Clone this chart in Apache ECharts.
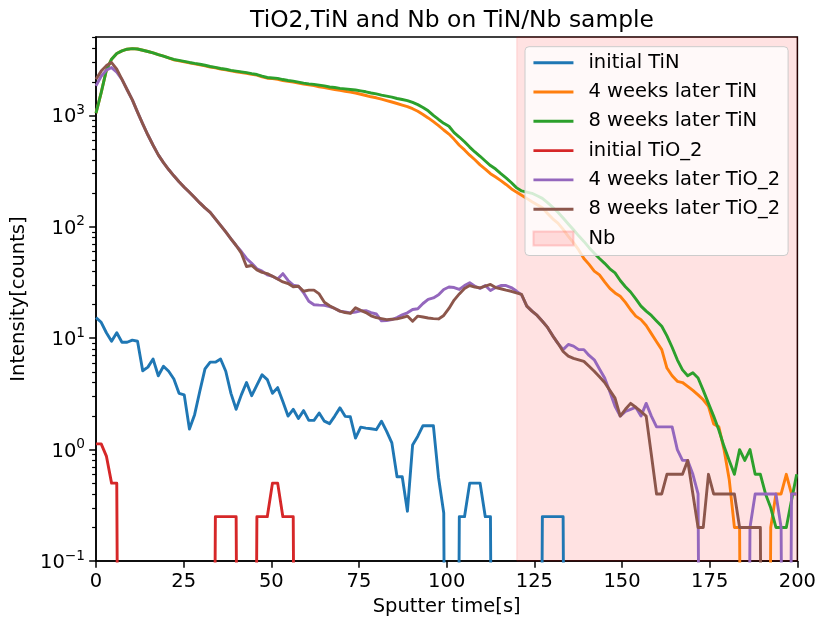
<!DOCTYPE html>
<html>
<head>
<meta charset="utf-8">
<script src="https://cdn.jsdelivr.net/npm/echarts@6/dist/echarts.min.js"></script>
<style>html,body{margin:0;padding:0;background:#fff}#c{width:819px;height:625px}</style>
</head>
<body>
<div id="c"></div>
<script>
// ---- data ----
const STEP_S = 1.48; // sampling step of the sputter time [s]
const xTicks = [0, 25, 50, 75, 100, 125, 150, 175, 200];
const yMajorTicks = [0.1, 1, 10, 100, 1000];
const yMinorTicks = [0.2,0.3,0.4,0.5,0.6,0.7,0.8,0.9,2,3,4,5,6,7,8,9,20,30,40,50,60,70,80,90,200,300,400,500,600,700,800,900,2000,3000,4000,5000];
const seriesNames = ['initial TiN', '4 weeks later TiN', '8 weeks later TiN', 'initial TiO_2', '4 weeks later TiO_2', '8 weeks later TiO_2'];
const nbRange = [120, 200];

const initialTiN = [15.3,13.9,11.2,9.4,11.2,9.2,9.2,9.6,9.4,5.1,
5.5,6.5,4.6,5.6,5.05,4.3,3.2,3.1,1.53,2.06,
3.34,5.3,6.1,6.1,6.5,5.05,3.2,2.3,3.1,4.0,
3.05,3.8,4.7,4.25,3.2,3.6,2.7,2.0,2.3,1.9,
2.24,1.83,1.83,2.13,1.8,1.71,2.0,2.37,1.99,1.97,
1.27,1.59,1.56,1.54,1.51,1.8,1.46,1.15,0.57,0.57,
0.28,1.1,1.32,1.64,1.64,1.64,0.56,0.27,0,0,
0.25,0.25,0.5,0.5,0.5,0.25,0.25,0,0,0,
0,0,0,0,0,0,0.25,0.25,0.25,0.25,
0.25,0,0,0,0,0,0,0,0,0,
0,0,0,0,0,0,0,0,0,0,
0,0,0,0,0,0,0,0,0,0,
0,0,0,0,0,0,0,0,0,0,
0,0,0,0,0,0];

const weeks4TiN = [1050,1600,2550,3200,3600,3800,3930,3980,3950,3850,
3750,3640,3510,3400,3280,3150,3090,3030,2960,2900,
2850,2790,2720,2670,2610,2570,2510,2470,2430,2390,
2340,2300,2220,2160,2140,2110,2060,2020,1990,1950,
1910,1880,1850,1810,1780,1740,1710,1680,1650,1620,
1590,1550,1510,1470,1440,1400,1360,1320,1280,1240,
1200,1150,1090,1020,950,880,810,740,680,610,
540,490,440,400,360,330,300,280,260,240,
220,205,192,180,168,158,148,132,118,108,
95,82,72,62,52,46,40,37,32,28,
25.5,23.8,21,18,15.8,14.7,13,11,9.3,7.9,
5.4,4.6,4.1,4.0,3.7,3.4,3.1,2.8,2.45,1.7,
1.6,1.0,0.54,0.2,0.2,0,0,0,0,0,
0.2,0.4,0.4,0.6,0.4,0.4];

const weeks8TiN = [1050,1600,2550,3200,3600,3800,3930,3980,3950,3850,
3750,3640,3510,3400,3280,3180,3120,3060,2990,2930,
2880,2820,2750,2700,2640,2600,2540,2500,2460,2420,
2370,2330,2250,2190,2170,2150,2100,2060,2030,1990,
1950,1920,1900,1870,1840,1800,1780,1750,1730,1710,
1690,1660,1630,1590,1560,1520,1490,1460,1420,1390,
1360,1310,1250,1180,1100,1000,920,850,800,700,
640,580,520,470,430,390,355,330,300,275,
250,225,210,205,200,190,180,165,150,135,
120,106,94,83,74,65,58,52,47,42,
38.6,33,29,26,22.5,19.4,17.5,16,14.3,12.8,
10.5,8.3,6.4,5.2,4.6,4.9,4.4,3.4,2.6,2.0,
1.5,1.07,0.8,0.6,1.0,0.8,1.0,0.6,0.6,0.4,
0.3,0.2,0.2,0.2,0.35,0.6];

const initialTiO2 = [1.125,1.125,0.875,0.5,0.5,0,0,0,0,0,
0,0,0,0,0,0,0,0,0,0,
0,0,0,0.25,0.25,0.25,0.25,0.25,0,0,
0,0.25,0.25,0.25,0.5,0.5,0.25,0.25,0.25,0,
0,0,0,0,0,0,0,0,0,0,
0,0,0,0,0,0,0,0,0,0,
0,0,0,0,0,0,0,0,0,0,
0,0,0,0,0,0,0,0,0,0,
0,0,0,0,0,0,0,0,0,0,
0,0,0,0,0,0,0,0,0,0,
0,0,0,0,0,0,0,0,0,0,
0,0,0,0,0,0,0,0,0,0,
0,0,0,0,0,0,0,0,0,0,
0,0,0,0,0,0];

const weeks4TiO2 = [1840,2250,2550,2690,2450,2110,1700,1380,1070,840,
667,540,443,377,327,287,254,227,204,183,
164,148,135,118,103,90,78,68,60,52,
47,42,40,37,36,34,38,33,30,29.3,
25.6,21.5,20.0,19.8,19.7,19.2,18.5,17.5,17.2,16.9,
17.2,17.6,17.7,17.0,16.5,14.3,14.4,14.7,15.3,16.2,
16.9,18.1,18.4,20.5,22.3,23.0,24.5,27.4,28.8,28.5,
27.4,29.7,31.5,29.3,28,29.7,26.8,28.5,29.7,29.7,
28.5,26.5,24.5,19.4,17.5,16,14.2,12.5,10.5,9.0,
7.9,8.8,8.5,7.9,7.9,7.0,6.4,5.3,4.4,3.3,
2.45,2.0,2.2,2.3,2.4,2.0,2.6,2.0,1.6,1.6,
1.6,1.6,1.0,0.8,0.8,0.6,0.4,0,0,0,
0,0,0,0,0,0,0.2,0.4,0.4,0.4,
0.4,0.4,0.2,0,0.4,0.4];

const weeks8TiO2 = [2110,2500,2800,2980,2600,2110,1700,1380,1070,840,
667,540,443,377,327,287,254,227,204,183,
164,148,135,118,103,90,78,68,58,44,
45,41,39,38,36,34,32,31,29,29.3,
26.4,27,27,25,21,19.6,18.5,17.5,17,16.7,
18.8,17.8,17.0,15.9,15.3,15.0,14.7,14.8,14.9,15.3,
15.8,14.2,15.8,15.5,15.2,15.0,14.9,16.0,18.5,22,
25,28,29.7,28.8,28.3,29.3,30.4,28.5,27.8,27,
26.4,25.5,24.7,19.4,17.5,16,14.2,12.5,10.5,9.0,
7.6,6.9,6.6,6.4,6.2,5.6,5.05,4.5,4.0,3.4,
2.9,2.0,2.3,2.6,2.4,2.2,2.0,0.9,0.4,0.4,
0.6,0.6,0.6,0.6,0.8,0.4,0.2,0.2,0.6,0.4,
0.4,0.4,0.4,0.4,0.2,0.2,0.2,0.2,0.2,0,
0,0,0,0,0,0];

const seriesValues = [initialTiN, weeks4TiN, weeks8TiN, initialTiO2, weeks4TiO2, weeks8TiO2];
const colors = ['#1f77b4', '#ff7f0e', '#2ca02c', '#d62728', '#9467bd', '#8c564b'];

// ---- build chart ----
const FONT = 'DejaVu Sans';
const time = initialTiN.map((_, i) => +(i * STEP_S).toFixed(3));
const ZERO_ON_LOG = 1e-9; // zero counts fall off the bottom of a log axis
const chart = echarts.init(document.getElementById('c'), null, {renderer: 'canvas'});

const lineSeries = seriesNames.map((name, k) => ({
  name, type: 'line', symbol: 'none', z: 3,
  color: colors[k],
  lineStyle: {width: 2.9, color: colors[k], join: 'round'},
  clip: true, animation: false,
  data: seriesValues[k].map((v, i) => [time[i], v > 0 ? v : ZERO_ON_LOG])
}));

const nbSeries = {
  name: 'Nb', type: 'bar', data: [], z: 1,
  itemStyle: {color: 'rgba(255,0,0,0.12)', borderColor: 'rgba(255,0,0,0.16)', borderWidth: 1},
  markArea: {
    silent: true,
    itemStyle: {color: 'rgba(255,0,0,0.115)', borderColor: 'rgba(255,0,0,0.14)', borderWidth: 1},
    data: [[{xAxis: nbRange[0]}, {xAxis: nbRange[1]}]]
  }
};

const supFmt = v => {
  const e = Math.round(Math.log10(v));
  return '{b|10}{s|' + (e < 0 ? '\u2212' + (-e) : String(e)) + '}';
};

const legendData = seriesNames.map(name => ({name, itemStyle: {opacity: 0}, lineStyle: {width: 2.9}}))
  .concat([{name: 'Nb', icon: 'rect'}]);

chart.setOption({
  animation: false,
  backgroundColor: '#fff',
  textStyle: {fontFamily: FONT},
  title: {
    text: 'TiO2,TiN and Nb on TiN/Nb sample',
    left: 447, top: 4, textAlign: 'center',
    textStyle: {fontFamily: FONT, fontSize: 23.4, fontWeight: 'normal', color: '#000'}
  },
  grid: {left: 96, right: 20, top: 37, bottom: 64, show: true, borderColor: '#000', borderWidth: 1.5, backgroundColor: 'transparent'},
  legend: {
    orient: 'vertical', left: 525, top: 46.7,
    backgroundColor: 'rgba(255,255,255,0.8)', borderColor: '#cccccc', borderWidth: 1, borderRadius: 4,
    padding: [6, 8, 7, 7],
    itemWidth: 40, itemHeight: 14, itemGap: 9.3,
    lineStyle: {width: 2.9},
    textStyle: {fontFamily: FONT, fontSize: 19.5, color: '#000', lineHeight: 19.5, padding: [0, 0, 0, 10]},
    data: legendData
  },
  xAxis: {
    type: 'value', min: 0, max: 200, interval: 25,
    name: 'Sputter time[s]', nameLocation: 'middle', nameGap: 36,
    nameTextStyle: {fontFamily: FONT, fontSize: 19.5, color: '#000'},
    axisLine: {show: true, onZero: false, lineStyle: {color: '#000', width: 1.5}},
    axisTick: {show: true, inside: false, length: 6.8, lineStyle: {color: '#000', width: 1.5}, customValues: xTicks},
    axisLabel: {fontFamily: FONT, fontSize: 19.5, color: '#000', margin: 11, customValues: xTicks},
    splitLine: {show: false}
  },
  yAxis: [{
    type: 'log', logBase: 10, min: 0.1, max: 5060,
    name: 'Intensity[counts]', nameLocation: 'middle', nameGap: 58,
    nameTextStyle: {fontFamily: FONT, fontSize: 19.5, color: '#000'},
    axisLine: {show: true, lineStyle: {color: '#000', width: 1.5}},
    axisTick: {show: true, length: 6.8, lineStyle: {color: '#000', width: 1.5}, customValues: yMajorTicks},
    axisLabel: {
      customValues: yMajorTicks, margin: 11, formatter: supFmt,
      rich: {
        b: {fontFamily: FONT, fontSize: 19.5, color: '#000', lineHeight: 24, verticalAlign: 'bottom'},
        s: {fontFamily: FONT, fontSize: 13.7, color: '#000', lineHeight: 14, verticalAlign: 'top'}
      }
    },
    splitLine: {show: false}, minorTick: {show: false}
  }, {
    type: 'log', logBase: 10, min: 0.1, max: 5060, position: 'left',
    axisLine: {show: false},
    axisTick: {show: true, length: 3.9, lineStyle: {color: '#000', width: 1.2}, customValues: yMinorTicks},
    axisLabel: {show: false},
    splitLine: {show: false}
  }],
  series: [nbSeries].concat(lineSeries)
});
</script>
</body>
</html>
